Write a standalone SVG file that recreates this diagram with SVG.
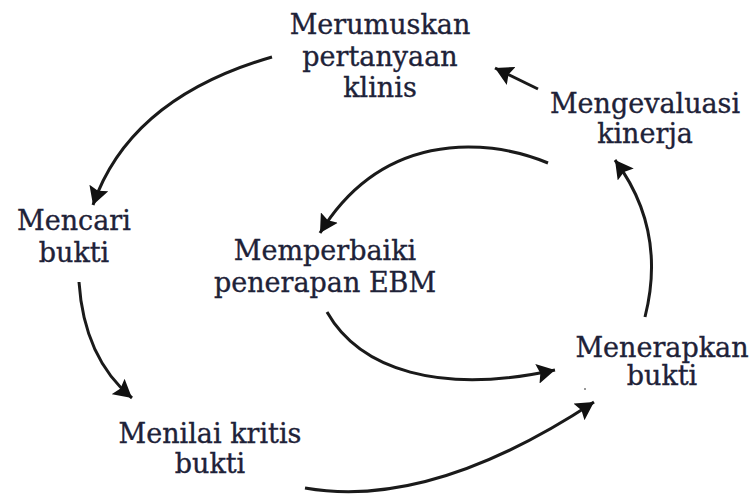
<svg xmlns="http://www.w3.org/2000/svg" width="756" height="497" viewBox="0 0 756 497">
<style>
.t{font-family:"DejaVu Serif","Liberation Serif",serif;font-size:27px;fill:#1e2238;stroke:#1e2238;stroke-width:0.35;text-anchor:middle}
.c{fill:none;stroke:#1a1a1a;stroke-width:3;marker-end:url(#ah)}
</style>
<defs>
<marker id="ah" markerUnits="userSpaceOnUse" markerWidth="20" markerHeight="20" viewBox="0 0 20 20" refX="18" refY="10" orient="auto">
<path d="M0,0 L18,10 L0,20 L3,10 Z" fill="#111"/>
</marker>
</defs>
<rect width="756" height="497" fill="#fff"/>
<g id="connectors">
<path class="c" d="M272,57 Q130,98 93,205"/>
<path class="c" d="M79,282 Q84,358 132,398"/>
<path class="c" d="M305,488 Q430,510 594,402"/>
<path class="c" d="M645,317 Q667,230 615,160"/>
<path class="c" d="M538,89 L495,68"/>
<path class="c" d="M548,163 C480,135 380,135 320,233"/>
<path class="c" d="M327,312 C360,370 440,395 555,370"/>
</g>
<g id="merumuskan"><text class="t" x="380" y="34">Merumuskan</text><text class="t" x="380" y="66">pertanyaan</text><text class="t" x="380" y="97">klinis</text></g>
<g id="mengevaluasi"><text class="t" x="645" y="113">Mengevaluasi</text><text class="t" x="645" y="143">kinerja</text></g>
<g id="mencari"><text class="t" x="74" y="230">Mencari</text><text class="t" x="74" y="262">bukti</text></g>
<g id="memperbaiki"><text class="t" x="325" y="260">Memperbaiki</text><text class="t" x="325" y="292">penerapan EBM</text></g>
<g id="menerapkan"><text class="t" x="662" y="357">Menerapkan</text><text class="t" x="662" y="385">bukti</text></g>
<g id="menilai"><text class="t" x="210" y="443">Menilai kritis</text><text class="t" x="210" y="473">bukti</text></g>
<circle cx="585" cy="389" r="1" fill="#777"/>
</svg>
